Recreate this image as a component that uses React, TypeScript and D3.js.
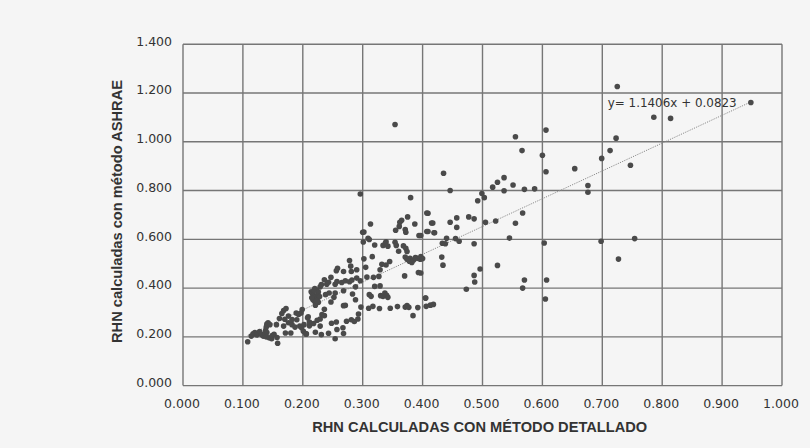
import React from "react";
import * as d3 from "d3";

const xTicks = [0, 0.1, 0.2, 0.3, 0.4, 0.5, 0.6, 0.7, 0.8, 0.9, 1.0];
const yTicks = [0, 0.2, 0.4, 0.6, 0.8, 1.0, 1.2, 1.4];
const xTitle = "RHN CALCULADAS CON MÉTODO DETALLADO";
const yTitle = "RHN calculadas con método ASHRAE";
const slope = 1.1406;
const intercept = 0.0823;
const equation = "y= 1.1406x + 0.0823";
const trendRange = [0.108, 0.948];

// [RHN método detallado, RHN método ASHRAE]
const lowCluster: [number, number][] = [
  [0.108,0.180],[0.114,0.203],[0.117,0.212],[0.120,0.218],[0.123,0.208],[0.126,0.215],[0.128,0.222],[0.131,0.210],
  [0.134,0.203],[0.137,0.214],[0.138,0.226],[0.140,0.218],[0.139,0.240],[0.140,0.252],[0.142,0.258],[0.145,0.250],
  [0.139,0.200],[0.144,0.196],[0.148,0.192],[0.149,0.205],[0.152,0.210],[0.157,0.197],[0.158,0.174],[0.156,0.250],
  [0.161,0.275],[0.165,0.296],[0.168,0.308],[0.172,0.316],[0.170,0.272],[0.176,0.285],[0.168,0.244],[0.176,0.258],
  [0.182,0.250],[0.171,0.216],[0.180,0.216],[0.187,0.240],[0.182,0.271],[0.190,0.270],[0.189,0.298],[0.193,0.292],
  [0.197,0.298],[0.199,0.312],[0.195,0.244],[0.201,0.223],[0.206,0.212],[0.211,0.245],[0.202,0.250],[0.198,0.237],
  [0.209,0.282],
];

const midLow: [number, number][] = [
  [0.208,0.278],[0.211,0.261],[0.218,0.255],[0.224,0.268],[0.229,0.273],[0.232,0.291],[0.236,0.287],[0.236,0.313],
  [0.229,0.244],[0.221,0.219],[0.231,0.209],[0.243,0.215],[0.248,0.256],[0.256,0.261],[0.254,0.192],[0.257,0.230],
  [0.267,0.237],[0.268,0.214],[0.273,0.264],[0.286,0.263],[0.292,0.273],[0.293,0.294],[0.297,0.322],[0.271,0.329],
  [0.247,0.343],[0.205,0.212],[0.288,0.352],[0.281,0.270],[0.268,0.328],
];

const midCluster: [number, number][] = [
  [0.214,0.385],[0.216,0.378],[0.218,0.370],[0.219,0.362],[0.217,0.352],[0.220,0.345],[0.222,0.338],[0.224,0.355],
  [0.225,0.372],[0.223,0.392],[0.220,0.398],[0.226,0.384],[0.228,0.365],[0.221,0.330],[0.226,0.342],[0.229,0.405],
  [0.231,0.414],[0.236,0.434],[0.240,0.416],[0.243,0.424],[0.247,0.444],[0.238,0.373],[0.244,0.380],[0.254,0.380],
  [0.252,0.362],[0.254,0.416],[0.257,0.427],[0.265,0.423],[0.271,0.430],[0.278,0.426],[0.282,0.433],[0.268,0.389],
  [0.283,0.376],[0.288,0.405],[0.290,0.441],[0.256,0.471],[0.258,0.481],[0.268,0.468],[0.281,0.468],[0.290,0.475],
  [0.278,0.513],[0.280,0.490],[0.296,0.430],[0.215,0.360],[0.219,0.390],[0.223,0.348],
];

const band30: [number, number][] = [
  [0.300,0.629],[0.301,0.589],[0.311,0.599],[0.302,0.520],[0.316,0.529],[0.320,0.577],[0.334,0.575],[0.338,0.585],
  [0.342,0.572],[0.339,0.590],[0.354,0.588],[0.356,0.575],[0.368,0.573],[0.372,0.563],[0.374,0.550],[0.360,0.551],
  [0.371,0.527],[0.379,0.522],[0.374,0.518],[0.378,0.510],[0.385,0.515],[0.391,0.522],[0.396,0.518],[0.393,0.464],
  [0.332,0.498],[0.339,0.495],[0.345,0.509],[0.329,0.475],[0.318,0.444],[0.307,0.445],[0.327,0.448],[0.370,0.450],
  [0.320,0.407],[0.329,0.409],[0.311,0.373],[0.314,0.366],[0.330,0.369],[0.334,0.366],[0.337,0.380],[0.340,0.370],
  [0.342,0.362],[0.317,0.325],[0.310,0.317],[0.328,0.316],[0.346,0.317],[0.358,0.324],[0.371,0.322],[0.374,0.328],
  [0.377,0.321],[0.392,0.320],[0.384,0.287],[0.406,0.325],[0.405,0.359],[0.413,0.330],[0.418,0.333],[0.305,0.485],
  [0.296,0.786],[0.380,0.771],[0.407,0.708],[0.375,0.692],[0.415,0.667],[0.313,0.663],[0.362,0.670],[0.365,0.678],
  [0.361,0.653],[0.387,0.663],[0.355,0.637],[0.371,0.640],[0.372,0.629],[0.407,0.632],[0.419,0.627],[0.394,0.616],
  [0.302,0.630],[0.309,0.604],[0.354,1.071],[0.382,0.505],[0.388,0.525],
];

const band40: [number, number][] = [
  [0.555,1.021],[0.606,1.048],[0.566,0.964],[0.600,0.945],[0.606,0.877],[0.435,0.871],[0.536,0.853],[0.525,0.834],
  [0.517,0.814],[0.551,0.823],[0.536,0.799],[0.570,0.805],[0.587,0.807],[0.446,0.800],[0.499,0.788],[0.503,0.771],
  [0.492,0.758],[0.409,0.707],[0.567,0.708],[0.417,0.667],[0.446,0.670],[0.457,0.688],[0.477,0.692],[0.486,0.684],
  [0.505,0.670],[0.522,0.675],[0.555,0.666],[0.457,0.649],[0.409,0.632],[0.420,0.627],[0.397,0.616],[0.440,0.604],
  [0.455,0.603],[0.461,0.592],[0.433,0.584],[0.438,0.582],[0.486,0.582],[0.545,0.605],[0.603,0.585],[0.397,0.529],
  [0.400,0.521],[0.432,0.527],[0.434,0.494],[0.397,0.462],[0.525,0.493],[0.496,0.478],[0.486,0.452],[0.487,0.425],
  [0.570,0.433],[0.607,0.433],[0.473,0.395],[0.567,0.400],[0.405,0.359],[0.605,0.355],
];

const band70: [number, number][] = [
  [0.786,1.101],[0.814,1.096],[0.723,1.015],[0.713,0.964],[0.699,0.932],[0.654,0.890],[0.747,0.904],[0.676,0.821],
  [0.676,0.793],[0.698,0.592],[0.754,0.603],[0.727,0.519],[0.725,1.227],[0.948,1.161],
];

const points = [...lowCluster, ...midLow, ...midCluster, ...band30, ...band40, ...band70];

export default function App() {
  const W = 810, H = 448;
  const x = d3.scaleLinear().domain([0, 1]).range([183, 782]);
  const y = d3.scaleLinear().domain([0, 1.4]).range([385.6, 44.3]);
  const fmt = d3.format(".3f");
  const gridColor = "#767676";
  const textColor = "#333333";
  const line = d3.line<number>().x((v) => x(v)).y((v) => y(slope * v + intercept));

  return (
    <div style={{ position: "fixed", left: 0, top: 0, width: W, height: H, background: "#f5f5f5" }}>
      <svg width={W} height={H} style={{ display: "block" }}>
        <rect x={0} y={0} width={W} height={H} fill="#f5f5f5" />
        {yTicks.map((t) => (
          <line key={"gy" + t} x1={x(0)} x2={x(1)} y1={y(t)} y2={y(t)} stroke={gridColor} strokeWidth={1.4} />
        ))}
        {xTicks.map((t) => (
          <line key={"gx" + t} x1={x(t)} x2={x(t)} y1={y(0)} y2={y(1.4)} stroke={gridColor} strokeWidth={1.4} />
        ))}
        {yTicks.map((t) => (
          <text key={"ty" + t} x={172} y={y(t) - 3} dy="0.35em" textAnchor="end"
            fontFamily="'DejaVu Sans', sans-serif" fontSize={12.5} fill={textColor}>{fmt(t)}</text>
        ))}
        {xTicks.map((t) => (
          <text key={"tx" + t} x={x(t) - 1} y={407.7} textAnchor="middle"
            fontFamily="'DejaVu Sans', sans-serif" fontSize={12.5} fill={textColor}>{fmt(t)}</text>
        ))}
        <path d={line(trendRange) || ""} stroke="#8a8a8a" strokeWidth={1} strokeDasharray="1.2 1.2" fill="none" />
        {points.map((p, i) => (
          <circle key={i} cx={x(p[0])} cy={y(p[1])} r={2.8} fill="#4a4a4a" />
        ))}
        <text x={607.7} y={106.5} textLength={129} lengthAdjust="spacingAndGlyphs"
          fontFamily="'DejaVu Sans', sans-serif" fontSize={12.5} fill={textColor}>{equation}</text>
        <text x={479.7} y={432} textAnchor="middle" textLength={335} lengthAdjust="spacingAndGlyphs"
          fontFamily="'Liberation Sans Narrow', 'Liberation Sans', sans-serif" fontWeight="bold" fontSize={15.5} fill={textColor}>{xTitle}</text>
        <text transform={`translate(121.5, 211.5) rotate(-90)`} textAnchor="middle" textLength={263} lengthAdjust="spacingAndGlyphs"
          fontFamily="'Liberation Sans', Arial, sans-serif" fontWeight="bold" fontSize={14.5} fill={textColor}>{yTitle}</text>
      </svg>
    </div>
  );
}
